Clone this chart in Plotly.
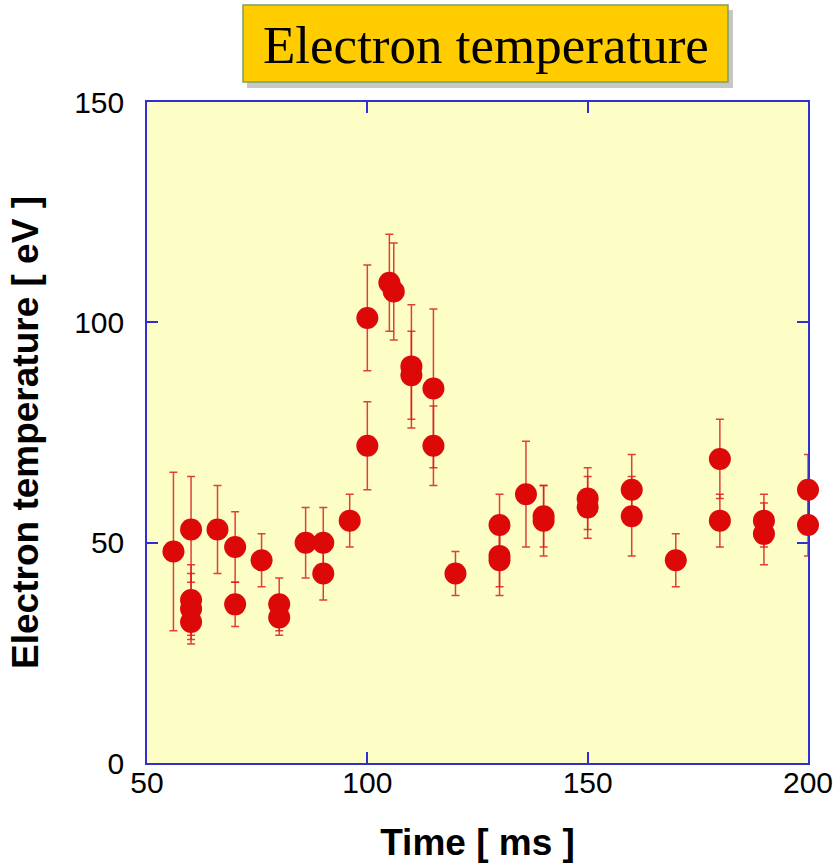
import plotly.graph_objects as go

# Data
time_ms = [56, 60, 60, 60, 60, 66, 70, 70, 76, 80, 80, 86, 90, 90, 96, 100, 100, 105, 106,
           110, 110, 115, 115, 120, 130, 130, 130, 136, 140, 140, 150, 150, 160, 160, 170,
           180, 180, 190, 190, 200, 200]
te_ev = [48, 53, 37, 35, 32, 53, 49, 36, 46, 36, 33, 50, 50, 43, 55, 101, 72, 109, 107,
         90, 88, 85, 72, 43, 54, 47, 46, 61, 56, 55, 60, 58, 62, 56, 46,
         69, 55, 55, 52, 62, 54]
te_err = [18, 12, 8, 8, 4, 10, 8, 5, 6, 6, 4, 8, 8, 6, 6, 12, 10, 11, 11,
          14, 10, 18, 9, 5, 7, 7, 8, 12, 7, 8, 7, 7, 8, 9, 6,
          9, 6, 6, 7, 8, 7]

x_ticks = [50, 100, 150, 200]
y_ticks = [0, 50, 100, 150]

W, H = 838, 863
L, T = 147, 102
pw, ph = 661, 661
R = W - L - pw
B = H - T - ph


def px(xp):
    return (xp - L) / pw


def py(yp):
    return (T + ph - yp) / ph


fig = go.Figure()
fig.add_trace(go.Scatter(
    x=time_ms, y=te_ev, mode="markers",
    marker=dict(size=22, color="#dd0808", line=dict(width=0)),
    error_y=dict(type="data", array=te_err, visible=True,
                 color="rgba(220,30,30,0.85)", thickness=1.5, width=4),
    cliponaxis=False, showlegend=False,
))

axis_col = "#3030d0"
tick_font = dict(family="Liberation Sans, Arial, sans-serif", size=30, color="black")
title_font = dict(family="Liberation Sans, Arial, sans-serif", size=37, color="black")

fig.update_xaxes(
    range=[50, 200], tickvals=x_ticks, ticks="inside", ticklen=11, tickwidth=1.5,
    tickcolor=axis_col, showline=True, linecolor=axis_col, linewidth=1.5,
    mirror="ticks", showgrid=False, zeroline=False, tickfont=tick_font,
    layer="below traces", automargin=False, ticklabelstandoff=-8,
    title=dict(text="<b>Time [ ms ]</b>", font=title_font, standoff=32),
)
fig.update_yaxes(
    range=[0, 150], tickvals=y_ticks, ticks="inside", ticklen=11, tickwidth=1.5,
    tickcolor=axis_col, showline=True, linecolor=axis_col, linewidth=1.5,
    mirror="ticks", showgrid=False, zeroline=False, tickfont=tick_font,
    layer="below traces", ticklabelstandoff=15, automargin=False,
    title=dict(text="<b>Electron temperature [ eV ]</b>", font=title_font, standoff=24),
)

# Title box with shadow
bx0, bx1, by0, by1 = 243, 728, 5, 82
fig.add_shape(type="rect", xref="paper", yref="paper",
              x0=px(bx0 + 4), x1=px(bx1 + 5), y0=py(by1 + 6), y1=py(by0 + 5),
              fillcolor="rgba(0,0,0,0.22)", line=dict(width=0), layer="above")
fig.add_shape(type="rect", xref="paper", yref="paper",
              x0=px(bx0), x1=px(bx1), y0=py(by1), y1=py(by0),
              fillcolor="#ffcc00", line=dict(color="#7f9f5f", width=1.5), layer="above")
fig.add_annotation(text="Electron temperature", xref="paper", yref="paper",
                   x=px(486), y=py(45), xanchor="center", yanchor="middle",
                   showarrow=False,
                   font=dict(family="Liberation Serif, Times New Roman, serif", size=53,
                             color="black"))

fig.update_layout(
    width=W, height=H,
    margin=dict(l=L, r=R, t=T, b=B),
    paper_bgcolor="white", plot_bgcolor="#fdfdc6",
)

fig.write_html(
    "out.html",
    config={"displayModeBar": False},
    post_script="document.body.style.margin='0';document.body.style.overflow='hidden';",
)
